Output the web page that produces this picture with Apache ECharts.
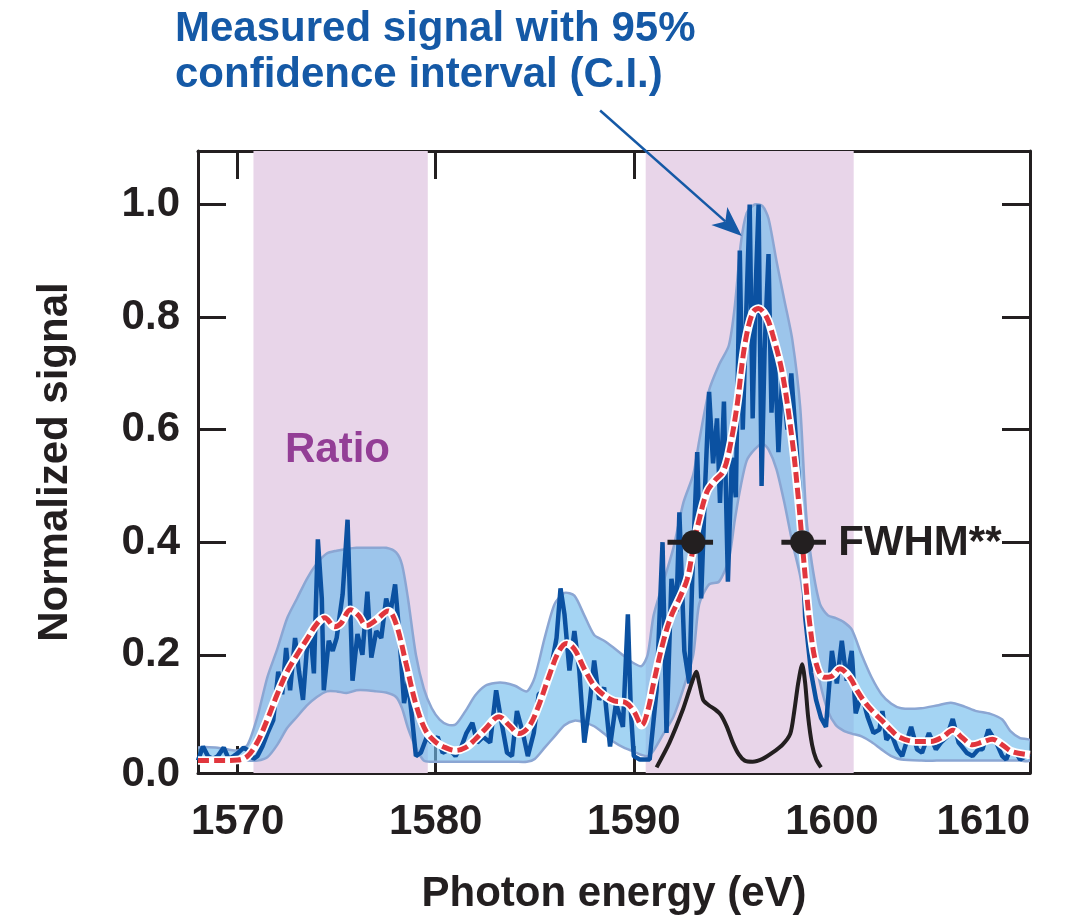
<!DOCTYPE html>
<html>
<head>
<meta charset="utf-8">
<script src="https://cdn.jsdelivr.net/npm/echarts@6/dist/echarts.min.js"></script>
<style>
  html, body { margin: 0; padding: 0; background: #fff; }
  #chart { width: 1069px; height: 921px; }
</style>
</head>
<body>
<div id="chart"></div>
<script>
// tick labels
const xTicks = [1570, 1580, 1590, 1600, 1610]
const yTicks = [0, 0.2, 0.4, 0.6, 0.8, 1.0]

// shaded "ratio" windows (eV)
const ratioBands = [[1570.8, 1579.6], [1590.6, 1601.1]]

// measured signal (noisy)
const sigX = [1568.0, 1568.25, 1568.5, 1568.75, 1569.0, 1569.3, 1569.55, 1569.8, 1570.0, 1570.3, 1570.55, 1570.8, 1571.0, 1571.25, 1571.5, 1571.8,
  1572.05, 1572.25, 1572.45, 1572.65, 1572.9, 1573.1, 1573.3, 1573.5, 1573.7, 1573.85, 1574.05, 1574.25, 1574.35, 1574.6, 1574.8, 1575.0,
  1575.3, 1575.55, 1575.8, 1576.05, 1576.3, 1576.55, 1576.75, 1577.0, 1577.25, 1577.5, 1577.7, 1577.95, 1578.15, 1578.4, 1578.6, 1578.8,
  1579.0, 1579.25, 1579.55, 1579.8, 1580.1, 1580.35, 1580.7, 1581.0, 1581.3, 1581.55, 1581.85, 1582.1, 1582.4, 1582.75, 1583.05, 1583.3,
  1583.6, 1583.85, 1584.1, 1584.4, 1584.65, 1584.95, 1585.2, 1585.55, 1585.8, 1586.1, 1586.3, 1586.5, 1586.75, 1587.0, 1587.25, 1587.5,
  1587.75, 1588.0, 1588.25, 1588.5, 1588.8, 1589.1, 1589.45, 1589.7, 1589.85, 1590.0, 1590.3, 1590.8, 1591.15, 1591.45, 1591.65, 1591.9,
  1592.15, 1592.3, 1592.55, 1592.8, 1592.95, 1593.2, 1593.4, 1593.6, 1593.8, 1594.0, 1594.2, 1594.35, 1594.55, 1594.75, 1594.95, 1595.15,
  1595.35, 1595.5, 1595.65, 1595.85, 1596.0, 1596.15, 1596.3, 1596.45, 1596.6, 1596.8, 1596.95, 1597.1, 1597.3, 1597.5, 1597.75, 1597.95,
  1598.15, 1598.45, 1598.65, 1598.95, 1599.2, 1599.45, 1599.7, 1600.0, 1600.25, 1600.5, 1600.75, 1601.0, 1601.2, 1601.5, 1601.8, 1602.1,
  1602.4, 1602.55, 1602.75, 1603.0, 1603.3, 1603.55, 1604.0, 1604.3, 1604.55, 1604.9, 1605.25, 1605.5, 1605.8, 1606.1, 1606.4, 1606.8,
  1607.1, 1607.4, 1607.6, 1607.9, 1608.3, 1608.6, 1608.8, 1609.0, 1609.3, 1609.5, 1609.8, 1610.0]
const sigY = [0.012, 0.037, 0.02, 0.015, 0.02, 0.035, 0.015, 0.02, 0.025, 0.035, 0.03, 0.015, 0.02, 0.037, 0.06, 0.084,
  0.17, 0.13, 0.212, 0.137, 0.23, 0.17, 0.12, 0.212, 0.23, 0.167, 0.405, 0.3, 0.137, 0.225, 0.207, 0.23,
  0.307, 0.44, 0.154, 0.237, 0.2, 0.312, 0.195, 0.242, 0.23, 0.3, 0.272, 0.325, 0.242, 0.114, 0.154, 0.09,
  0.02, 0.026, 0.054, 0.044, 0.054, 0.026, 0.032, 0.02, 0.037, 0.061, 0.079, 0.044, 0.054, 0.044, 0.137, 0.084,
  0.026, 0.02, 0.1, 0.061, 0.02, 0.061, 0.13, 0.137, 0.172, 0.23, 0.318, 0.272, 0.172, 0.242, 0.172, 0.044,
  0.107, 0.19, 0.12, 0.142, 0.037, 0.114, 0.072, 0.272, 0.1, 0.02, 0.014, 0.014, 0.137, 0.4, 0.061, 0.335,
  0.277, 0.453, 0.207, 0.149, 0.335, 0.56, 0.3, 0.5, 0.667, 0.54, 0.62, 0.47, 0.65, 0.33, 0.55, 0.48,
  0.918, 0.6, 0.78, 1.0, 0.62, 0.85, 1.0, 0.5, 0.74, 0.912, 0.63, 0.75, 0.56, 0.7, 0.6, 0.7,
  0.6, 0.45, 0.267, 0.168, 0.12, 0.088, 0.072, 0.207, 0.149, 0.225, 0.154, 0.207, 0.096, 0.13, 0.09, 0.061,
  0.067, 0.1, 0.049, 0.06, 0.032, 0.02, 0.072, 0.032, 0.026, 0.061, 0.032, 0.044, 0.054, 0.086, 0.044, 0.026,
  0.02, 0.032, 0.032, 0.067, 0.044, 0.02, 0.014, 0.032, 0.026, 0.014, 0.02, 0.018]

// smoothed fit (red dashed)
const fitX = [1568.0, 1569.0, 1570.0, 1570.5, 1571.0, 1571.5, 1572.0, 1572.5, 1573.0, 1573.5, 1574.0, 1574.4, 1574.9, 1575.2, 1575.7, 1576.1,
  1576.5, 1577.0, 1577.6, 1578.0, 1578.5, 1579.0, 1579.5, 1580.0, 1580.5, 1581.0, 1581.5, 1582.0, 1582.5, 1583.2, 1583.7, 1584.2,
  1584.7, 1585.2, 1585.7, 1586.2, 1586.6, 1587.0, 1587.5, 1588.0, 1588.5, 1589.0, 1589.6, 1590.0, 1590.4, 1590.7, 1591.0, 1591.5,
  1591.9, 1592.3, 1592.7, 1593.0, 1593.3, 1593.7, 1594.1, 1594.5, 1594.8, 1595.2, 1595.6, 1596.0, 1596.3, 1596.7, 1597.0, 1597.5,
  1598.0, 1598.3, 1598.5, 1598.7, 1598.9, 1599.2, 1599.6, 1600.0, 1600.4, 1600.9, 1601.3, 1601.7, 1602.1, 1602.5, 1603.0, 1603.4,
  1604.2, 1605.0, 1605.6, 1606.1, 1606.6, 1607.1, 1607.6, 1608.1, 1608.6, 1609.1, 1610.0]
const fitY = [0.012, 0.012, 0.013, 0.02, 0.045, 0.085, 0.13, 0.17, 0.2, 0.228, 0.255, 0.266, 0.25, 0.255, 0.28, 0.27,
  0.252, 0.262, 0.278, 0.255, 0.185, 0.112, 0.065, 0.045, 0.035, 0.03, 0.035, 0.05, 0.068, 0.09, 0.075, 0.06,
  0.072, 0.11, 0.16, 0.205, 0.22, 0.21, 0.175, 0.145, 0.128, 0.118, 0.115, 0.1, 0.075, 0.1, 0.15, 0.225,
  0.27, 0.3, 0.335, 0.39, 0.44, 0.49, 0.51, 0.525, 0.56, 0.64, 0.75, 0.808, 0.815, 0.8, 0.77, 0.7,
  0.58, 0.48, 0.4, 0.32, 0.25, 0.185, 0.16, 0.162, 0.175, 0.16, 0.135, 0.114, 0.098, 0.084, 0.066, 0.054,
  0.046, 0.046, 0.054, 0.066, 0.052, 0.04, 0.045, 0.05, 0.04, 0.028, 0.022]

// 95% confidence interval
const ciX = [1568.0, 1569.0, 1570.0, 1570.5, 1571.0, 1571.5, 1572.0, 1572.5, 1573.0, 1573.5, 1574.0, 1574.5, 1575.0, 1575.5, 1576.0, 1576.5,
  1577.0, 1577.5, 1578.0, 1578.3, 1578.6, 1579.0, 1579.4, 1579.8, 1580.2, 1580.6, 1581.0, 1581.5, 1582.0, 1582.5, 1583.0, 1583.5,
  1584.0, 1584.6, 1585.0, 1585.5, 1586.0, 1586.5, 1587.0, 1587.5, 1588.0, 1588.5, 1589.0, 1589.5, 1590.0, 1590.4, 1590.7, 1591.0,
  1591.5, 1592.0, 1592.5, 1593.0, 1593.3, 1593.8, 1594.3, 1594.8, 1595.1, 1595.4, 1595.7, 1596.1, 1596.5, 1596.8, 1597.2, 1597.6,
  1598.0, 1598.4, 1598.7, 1599.0, 1599.4, 1599.8, 1600.2, 1600.6, 1601.0, 1601.5, 1602.0, 1602.5, 1603.0, 1603.5, 1604.5, 1605.3,
  1606.0, 1606.7, 1607.3, 1608.0, 1608.6, 1609.0, 1609.5, 1610.0]
const ciUp = [0.035, 0.035, 0.03, 0.04, 0.09, 0.16, 0.21, 0.265, 0.3, 0.335, 0.362, 0.38, 0.385, 0.388, 0.39, 0.39,
  0.39, 0.39, 0.382, 0.36, 0.3, 0.2, 0.14, 0.105, 0.085, 0.076, 0.076, 0.1, 0.128, 0.145, 0.15, 0.15,
  0.145, 0.135, 0.16, 0.23, 0.29, 0.31, 0.305, 0.27, 0.235, 0.225, 0.212, 0.198, 0.185, 0.18, 0.2, 0.27,
  0.33, 0.39, 0.47, 0.52, 0.58, 0.67, 0.715, 0.75, 0.82, 0.93, 0.985, 1.0, 0.997, 0.975, 0.9, 0.83,
  0.76, 0.64, 0.45, 0.36, 0.29, 0.27, 0.265, 0.258, 0.245, 0.2, 0.16, 0.13, 0.113, 0.105, 0.105, 0.11,
  0.115, 0.108, 0.1, 0.095, 0.085, 0.065, 0.052, 0.048]
const ciLo = [0.018, 0.016, 0.014, 0.012, 0.012, 0.018, 0.04, 0.07, 0.09, 0.11, 0.125, 0.135, 0.135, 0.132, 0.137, 0.137,
  0.135, 0.133, 0.125, 0.105, 0.07, 0.035, 0.012, 0.01, 0.01, 0.01, 0.01, 0.01, 0.01, 0.01, 0.01, 0.01,
  0.01, 0.01, 0.015, 0.035, 0.055, 0.075, 0.083, 0.08, 0.073, 0.06, 0.045, 0.035, 0.028, 0.022, 0.02, 0.03,
  0.06, 0.09, 0.14, 0.2, 0.29, 0.325, 0.33, 0.37, 0.44, 0.5, 0.545, 0.565, 0.575, 0.565, 0.53, 0.47,
  0.4, 0.34, 0.27, 0.22, 0.15, 0.1, 0.075, 0.065, 0.06, 0.055, 0.045, 0.032, 0.02, 0.014, 0.012, 0.012,
  0.012, 0.012, 0.012, 0.012, 0.012, 0.012, 0.012, 0.012]

// black reference line
const refX = [1591.15, 1591.8, 1592.45, 1592.8, 1593.0, 1593.15, 1593.3, 1593.5, 1593.8, 1594.1, 1594.4, 1594.7, 1595.0, 1595.3, 1595.6, 1596.0,
  1596.5, 1597.0, 1597.5, 1597.9, 1598.1, 1598.3, 1598.5, 1598.65, 1598.8, 1599.0, 1599.2, 1599.45]
const refY = [0.0, 0.044, 0.1, 0.137, 0.158, 0.17, 0.15, 0.12, 0.11, 0.103, 0.093, 0.072, 0.044, 0.023, 0.012, 0.01,
  0.015, 0.026, 0.04, 0.06, 0.1, 0.15, 0.183, 0.15, 0.09, 0.04, 0.015, 0.0]

// FWHM markers
const fwhmX = [1593.0, 1598.5]
const fwhmY = [0.4, 0.4]
const fwhmLo = [1591.7, 1597.45]
const fwhmHi = [1594.0, 1599.7]

const ink = '#231f20'
const font = '"Liberation Sans", Arial, Helvetica, sans-serif'
const zip = (xs, ys) => xs.map((x, i) => [x, ys[i]])

let chart = echarts.init(document.getElementById('chart'))

// frame line + inward ticks shared by all four sides
const axisCommon = {
  type: 'value',
  splitLine: { show: false },
  axisLine: { show: true, onZero: false, lineStyle: { color: ink, width: 3 } }
}
const ticks = (vals, len) => ({ show: true, inside: true, length: len, customValues: vals, lineStyle: { color: ink, width: 3 } })
const labelText = { fontSize: 42, fontWeight: 'bold', fontFamily: font, color: ink }

chart.setOption({
  animation: false,
  backgroundColor: '#fff',
  grid: { left: 198, top: 151, width: 832, height: 622, outerBoundsMode: 'none' },
  xAxis: [
    Object.assign({}, axisCommon, {
      position: 'bottom',
      min: 1568,
      max: 1610,
      axisTick: ticks(xTicks, 27),
      axisLabel: Object.assign({
        customValues: xTicks,
        formatter: v => String(v),
        margin: 28,
        alignMaxLabel: 'right'
      }, labelText),
      name: 'Photon energy (eV)',
      nameLocation: 'middle',
      nameGap: 100,
      nameTextStyle: labelText
    }),
    Object.assign({}, axisCommon, {
      position: 'top',
      min: 1568,
      max: 1610,
      axisTick: ticks([1570, 1580, 1590, 1600], 28),
      axisLabel: { show: false }
    })
  ],
  yAxis: [
    Object.assign({}, axisCommon, {
      position: 'left',
      min: -0.01,
      max: 1.095,
      axisTick: ticks(yTicks.slice(1), 28),
      axisLabel: Object.assign({
        customValues: yTicks,
        // the 0.0 label sits a little lower in the original, clear of the x axis
        formatter: v => Math.abs(v) < 1e-9 ? '{z|0.0}' : v.toFixed(1),
        rich: { z: Object.assign({ padding: [14, 0, 0, 0] }, labelText) },
        margin: 18
      }, labelText),
      name: 'Normalized signal',
      nameLocation: 'middle',
      nameGap: 122,
      nameTextStyle: labelText
    }),
    Object.assign({}, axisCommon, {
      position: 'right',
      min: -0.01,
      max: 1.095,
      axisTick: ticks(yTicks.slice(1), 28),
      axisLabel: { show: false }
    })
  ],
  series: [
    {
      name: 'bands',
      type: 'line',
      z: 1,
      data: [],
      markArea: {
        silent: true,
        itemStyle: { color: '#e8d5e9' },
        data: ratioBands.map(b => [{ xAxis: b[0] }, { xAxis: b[1] }])
      }
    },
    {
      name: 'C.I.',
      type: 'custom',
      z: 2,
      clip: true,
      data: [[ciX[0], ciUp[0]]],
      encode: { x: 0, y: 1 },
      renderItem: (params, api) => {
        let up = ciX.map((x, i) => api.coord([x, ciUp[i]]))
        let lo = ciX.map((x, i) => api.coord([x, ciLo[i]])).reverse()
        return {
          type: 'polygon',
          shape: { points: up.concat(lo), smooth: 0.25 },
          style: { fill: 'rgba(112,188,236,0.64)', stroke: '#8ba6d3', lineWidth: 2.5 }
        }
      }
    },
    {
      name: 'signal',
      type: 'line',
      z: 3,
      showSymbol: false,
      data: zip(sigX, sigY),
      lineStyle: { color: '#0b51a1', width: 4.5 }
    },
    {
      name: 'reference',
      type: 'line',
      z: 4,
      smooth: 0.25,
      showSymbol: false,
      data: zip(refX, refY),
      lineStyle: { color: ink, width: 4 }
    },
    {
      name: 'fit outline',
      type: 'line',
      z: 5,
      smooth: 0.35,
      showSymbol: false,
      data: zip(fitX, fitY),
      lineStyle: { color: '#fff', width: 8.5 }
    },
    {
      name: 'fit',
      type: 'line',
      z: 6,
      smooth: 0.35,
      showSymbol: false,
      data: zip(fitX, fitY),
      lineStyle: { color: '#e1363d', width: 5, type: [11, 5] }
    },
    {
      name: 'FWHM',
      type: 'custom',
      z: 7,
      data: fwhmX.map((x, i) => [x, fwhmY[i], fwhmLo[i], fwhmHi[i]]),
      encode: { x: 0, y: 1 },
      renderItem: (params, api) => {
        let c = api.coord([api.value(0), api.value(1)])
        let l = api.coord([api.value(2), api.value(1)])
        let r = api.coord([api.value(3), api.value(1)])
        return {
          type: 'group',
          children: [
            { type: 'line', shape: { x1: l[0], y1: l[1], x2: r[0], y2: r[1] }, style: { stroke: ink, lineWidth: 5 } },
            { type: 'circle', shape: { cx: c[0], cy: c[1], r: 12 }, style: { fill: ink } }
          ]
        }
      }
    }
  ]
})

// annotation arrow, placed through the axes
let p0 = chart.convertToPixel({ xAxisIndex: 0, yAxisIndex: 0 }, [1588.3, 1.167])
let p1 = chart.convertToPixel({ xAxisIndex: 0, yAxisIndex: 0 }, [1595.45, 0.944])
let dx = p1[0] - p0[0]
let dy = p1[1] - p0[1]
let len = Math.sqrt(dx * dx + dy * dy)
let ux = dx / len
let uy = dy / len
let bx = p1[0] - ux * 30
let by = p1[1] - uy * 30
let head = [
  [p1[0], p1[1]],
  [bx - uy * 12, by + ux * 12],
  [bx + ux * 8, by + uy * 8],
  [bx + uy * 12, by - ux * 12]
]
let fwhmPx = chart.convertToPixel({ xAxisIndex: 0, yAxisIndex: 0 }, [fwhmX[1], fwhmY[1]])
let blue = '#1559a6'

chart.setOption({
  graphic: [
    {
      type: 'line',
      z: 20,
      shape: { x1: p0[0], y1: p0[1], x2: bx + ux * 8, y2: by + uy * 8 },
      style: { stroke: blue, lineWidth: 2.5 }
    },
    { type: 'polygon', z: 20, shape: { points: head }, style: { fill: blue } },
    {
      type: 'text',
      z: 20,
      x: 175,
      y: 6,
      style: {
        text: 'Measured signal with 95%\nconfidence interval (C.I.)',
        font: 'bold 42px ' + font,
        fill: blue,
        lineHeight: 46,
        align: 'left',
        verticalAlign: 'top'
      }
    },
    {
      type: 'text',
      z: 20,
      x: 285,
      y: 450,
      style: { text: 'Ratio', font: 'bold 42px ' + font, fill: '#933e96', align: 'left', verticalAlign: 'middle' }
    },
    {
      type: 'text',
      z: 20,
      x: fwhmPx[0] + 36,
      y: fwhmPx[1] + 1,
      style: { text: 'FWHM**', font: 'bold 42px ' + font, fill: ink, align: 'left', verticalAlign: 'middle' }
    }
  ]
})
</script>
</body>
</html>
